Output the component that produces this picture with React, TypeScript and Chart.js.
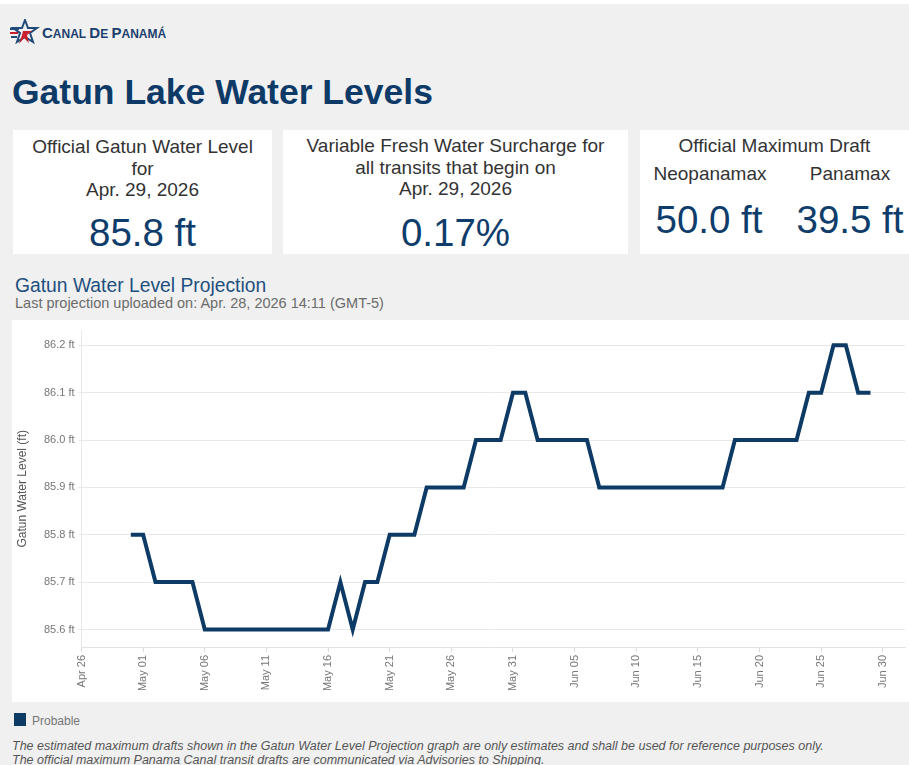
import React, { useEffect, useRef } from "react";
import { Chart, registerables } from "chart.js";

Chart.register(...registerables);

// ---- Data ----
const startDate = "2026-04-30"; // first projected day
const axisStart = "2026-04-26"; // x-axis origin
const probableLevels = [
  85.8, 85.8, // Apr 30, May 1
  85.7, 85.7, 85.7, 85.7, // May 2-5
  85.6, 85.6, 85.6, 85.6, 85.6, 85.6, 85.6, 85.6, 85.6, 85.6, 85.6, // May 6-16
  85.7, // May 17
  85.6, // May 18
  85.7, 85.7, // May 19-20
  85.8, 85.8, 85.8, // May 21-23
  85.9, 85.9, 85.9, 85.9, // May 24-27
  86.0, 86.0, 86.0, // May 28-30
  86.1, 86.1, // May 31 - Jun 1
  86.0, 86.0, 86.0, 86.0, 86.0, // Jun 2-6
  85.9, 85.9, 85.9, 85.9, 85.9, 85.9, 85.9, 85.9, 85.9, 85.9, 85.9, // Jun 7-17
  86.0, 86.0, 86.0, 86.0, 86.0, 86.0, // Jun 18-23
  86.1, 86.1, // Jun 24-25
  86.2, 86.2, // Jun 26-27
  86.1, 86.1, // Jun 28-29
];
const xTickLabels = [
  "Apr 26", "May 01", "May 06", "May 11", "May 16", "May 21", "May 26",
  "May 31", "Jun 05", "Jun 10", "Jun 15", "Jun 20", "Jun 25", "Jun 30",
];
const yTickValues = [85.6, 85.7, 85.8, 85.9, 86.0, 86.1, 86.2];

const DAY = 86400000;
const dayOffset = (Date.parse(startDate) - Date.parse(axisStart)) / DAY;

const NAVY = "#0d3b66";
const FONT = "'Liberation Sans', Arial, sans-serif";

function T(props: {
  x: number; y: number; w?: number; size: number; color: string; text: React.ReactNode;
  weight?: number | string; italic?: boolean; align?: "left" | "center";
}) {
  const { x, y, w, size, color, text, weight, italic, align } = props;
  const style: React.CSSProperties = {
    position: "absolute",
    left: x,
    top: y - 0.588 * size,
    fontSize: size,
    lineHeight: size * 1.2 + "px",
    color,
    fontFamily: FONT,
    fontWeight: weight ?? 400,
    fontStyle: italic ? "italic" : "normal",
    whiteSpace: "nowrap",
    textAlign: align ?? "left",
  };
  if (w !== undefined) style.width = w;
  return <div style={style}>{text}</div>;
}

function ChartBox() {
  const ref = useRef<HTMLCanvasElement | null>(null);
  useEffect(() => {
    if (!ref.current) return;
    const points = probableLevels.map((v, i) => ({ x: dayOffset + i, y: v }));
    const chart = new Chart(ref.current, {
      type: "line",
      data: {
        datasets: [
          {
            label: "Probable",
            data: points,
            borderColor: NAVY,
            backgroundColor: NAVY,
            borderWidth: 4,
            pointRadius: 0,
            tension: 0,
            fill: false,
          },
        ],
      },
      options: {
        animation: false,
        responsive: false,
        maintainAspectRatio: false,
        layout: { padding: { top: 2, right: 4, left: 0, bottom: 0 } },
        plugins: { legend: { display: false }, tooltip: { enabled: false } },
        scales: {
          x: {
            type: "linear",
            min: 0,
            max: 66.8,
            afterBuildTicks: (scale: any) => {
              scale.ticks = xTickLabels.map((_, i) => ({ value: i * 5 }));
            },
            afterFit: (scale: any) => {
              scale.height = 55;
            },
            ticks: {
              autoSkip: false,
              minRotation: 90,
              maxRotation: 90,
              padding: 3,
              color: "#777",
              font: { family: FONT, size: 11 },
              callback: (v: any) => xTickLabels[Math.round(Number(v) / 5)] ?? "",
            },
            grid: {
              drawOnChartArea: false,
              drawTicks: true,
              tickLength: 5,
              color: "#dcdcdc",
            },
            border: { display: true, color: "#e2e2e2" },
          },
          y: {
            type: "linear",
            min: 85.563,
            max: 86.231,
            afterBuildTicks: (scale: any) => {
              scale.ticks = yTickValues.map((v) => ({ value: v }));
            },
            afterFit: (scale: any) => {
              scale.width = 69.5;
            },
            ticks: {
              padding: 4,
              color: "#777",
              font: { family: FONT, size: 11 },
              callback: (v: any) => Number(v).toFixed(1) + " ft",
            },
            grid: { color: "#e8e8e8", tickLength: 3 },
            border: { display: true, color: "#e8e8e8" },
            title: {
              display: true,
              text: "Gatun Water Level (ft)",
              color: "#555",
              font: { family: FONT, size: 12 },
              padding: { top: 3, bottom: 0 },
            },
          },
        },
      },
    });
    return () => chart.destroy();
  }, []);
  return (
    <canvas
      ref={ref}
      width={897}
      height={382}
      style={{ position: "absolute", left: 12, top: 320, width: 897, height: 382, background: "#fff" }}
    />
  );
}

function Logo() {
  return (
    <svg width={30} height={28} viewBox="0 0 30 28" style={{ position: "absolute", left: 10, top: 19 }}>
      <rect x={0} y={9} width={9} height={2} fill="#1f4a7a" />
      <rect x={0} y={13} width={8} height={2} fill="#c8202f" />
      <rect x={1} y={17} width={6} height={2} fill="#1f4a7a" />
      <polygon points="15,1 18,9 27,9 20,14 23,23 15,18 7,23 10,14 3,9 12,9" fill="none" stroke="#1f4a7a" strokeWidth={2} />
      <polygon points="13,12 22,12 17,16 19,24 14,19 9,25 12,16" fill="#c8202f" />
    </svg>
  );
}

function SmallCaps({ words }: { words: string[] }) {
  return (
    <>
      {words.map((wd, i) => (
        <span key={i}>
          {i > 0 ? <span style={{ fontSize: 12 }}> </span> : null}
          <span style={{ fontSize: 15 }}>{wd[0]}</span>
          <span style={{ fontSize: 12 }}>{wd.slice(1)}</span>
        </span>
      ))}
    </>
  );
}

export default function App() {
  return (
    <div style={{ position: "relative", width: 909, height: 765, background: "#fff", overflow: "hidden", fontFamily: FONT }}>
      <style>{"body{margin:0}"}</style>
      <div style={{ position: "absolute", left: 0, top: 4, width: 909, height: 761, background: "#f0f0f0" }} />
      <Logo />
      <T x={42} y={33} size={15} color="#1c3f6e" weight={700} text={<SmallCaps words={["CANAL", "DE", "PANAMÁ"]} />} />
      <T x={12} y={92} size={35.5} color="#0e3a68" weight={700} text="Gatun Lake Water Levels" />

      {/* Card 1 */}
      <div style={{ position: "absolute", left: 13, top: 130, width: 259, height: 124, background: "#fff" }} />
      <T x={13} w={259} align="center" y={147} size={19} color="#333" text="Official Gatun Water Level" />
      <T x={13} w={259} align="center" y={169} size={19} color="#333" text="for" />
      <T x={13} w={259} align="center" y={190} size={19} color="#333" text="Apr. 29, 2026" />
      <T x={13} w={259} align="center" y={233} size={38.5} color="#0f3d6b" text="85.8 ft" />

      {/* Card 2 */}
      <div style={{ position: "absolute", left: 283, top: 130, width: 345, height: 124, background: "#fff" }} />
      <T x={283} w={345} align="center" y={146} size={19} color="#333" text="Variable Fresh Water Surcharge for" />
      <T x={283} w={345} align="center" y={168} size={19} color="#333" text="all transits that begin on" />
      <T x={283} w={345} align="center" y={189} size={19} color="#333" text="Apr. 29, 2026" />
      <T x={283} w={345} align="center" y={233} size={38.5} color="#0f3d6b" text="0.17%" />

      {/* Card 3 */}
      <div style={{ position: "absolute", left: 640, top: 130, width: 269, height: 124, background: "#fff" }} />
      <T x={640} w={269} align="center" y={146} size={19} color="#333" text="Official Maximum Draft" />
      <T x={610} w={200} align="center" y={174} size={19} color="#333" text="Neopanamax" />
      <T x={750} w={200} align="center" y={174} size={19} color="#333" text="Panamax" />
      <T x={609} w={200} align="center" y={220} size={38.5} color="#0f3d6b" text="50.0 ft" />
      <T x={750} w={200} align="center" y={220} size={38.5} color="#0f3d6b" text="39.5 ft" />

      <T x={15} y={285} size={19.3} color="#1e4f7e" text="Gatun Water Level Projection" />
      <T x={15} y={304} size={14.5} color="#6b6b6b" text="Last projection uploaded on: Apr. 28, 2026 14:11 (GMT-5)" />

      <ChartBox />

      <div style={{ position: "absolute", left: 14, top: 713, width: 12, height: 13, background: NAVY }} />
      <T x={32} y={721} size={12} color="#777" text="Probable" />

      <T x={12} y={746} size={12.5} italic color="#555" text="The estimated maximum drafts shown in the Gatun Water Level Projection graph are only estimates and shall be used for reference purposes only." />
      <T x={12} y={760} size={12.5} italic color="#555" text="The official maximum Panama Canal transit drafts are communicated via Advisories to Shipping." />
    </div>
  );
}
